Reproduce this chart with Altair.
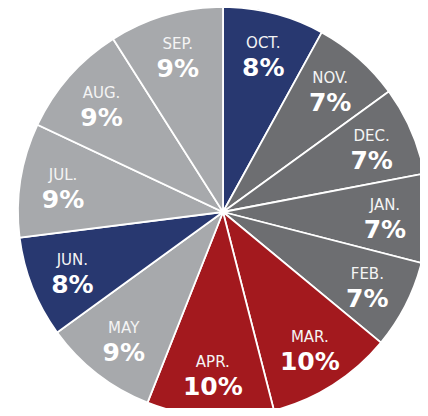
import altair as alt
import pandas as pd

months = ["OCT.", "NOV.", "DEC.", "JAN.", "FEB.", "MAR.", "APR.", "MAY", "JUN.", "JUL.", "AUG.", "SEP."]
shares = [8, 7, 7, 7, 7, 10, 10, 9, 8, 9, 9, 9]
month_colors = ["#283870", "#6d6e71", "#6d6e71", "#6d6e71", "#6d6e71", "#a3191e",
                "#a3191e", "#a7a9ac", "#283870", "#a7a9ac", "#a7a9ac", "#a7a9ac"]

df = pd.DataFrame({"month": months, "share": shares, "idx": list(range(len(months)))})
df["pct"] = df["share"].astype(str) + "%"

CX, CY = 215, 204

base = alt.Chart(df).encode(
    theta=alt.Theta("share:Q", stack=True),
    order=alt.Order("idx:Q"),
)

arcs = base.mark_arc(outerRadius=205, stroke="white", strokeWidth=1.8).encode(
    color=alt.Color("month:N", scale=alt.Scale(domain=months, range=month_colors), legend=None),
    x=alt.value(CX),
    y=alt.value(CY),
)

month_txt = base.mark_text(radius=162, dy=-12, font="DejaVu Sans", fontSize=15,
                           color="#f4f4f4", baseline="middle").encode(
    text="month:N", x=alt.value(CX), y=alt.value(CY))

pct_txt = base.mark_text(radius=162, dy=13, font="DejaVu Sans", fontSize=25, fontWeight="bold",
                         color="white", baseline="middle").encode(
    text="pct:N", x=alt.value(CX), y=alt.value(CY))

chart = alt.layer(arcs, month_txt, pct_txt).properties(
    width=412, height=400, autosize="none", padding=0, background="white"
).configure_view(strokeWidth=0)

chart.save("out.html", embed_options={"renderer": "svg", "actions": False})
